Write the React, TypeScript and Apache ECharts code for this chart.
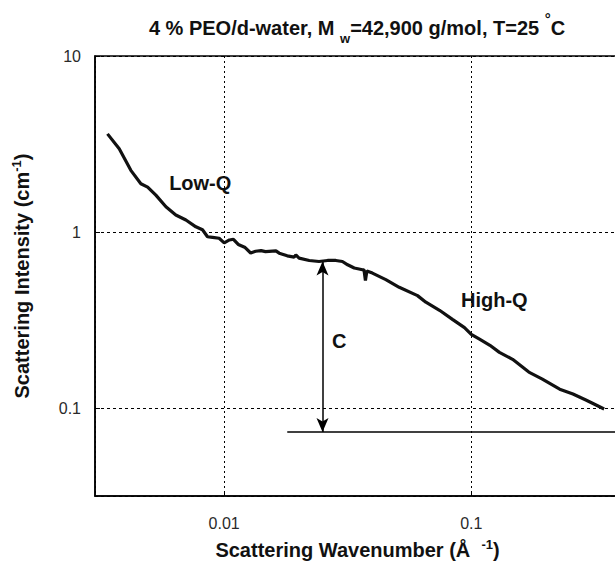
import React, { useEffect, useRef } from "react";
import * as echarts from "echarts";

// Scattering wavenumber Q (1/Å) and intensity I (1/cm)
const qValues = [
  0.00337, 0.00376, 0.00419, 0.0046, 0.0049, 0.00529, 0.00581, 0.00637, 0.007, 0.00768,
  0.00817, 0.00856, 0.00897, 0.00954, 0.01, 0.0105, 0.0109, 0.0114, 0.0121, 0.0128,
  0.0134, 0.0141, 0.0147, 0.0162, 0.0167, 0.018, 0.0192, 0.0195, 0.0201, 0.0221,
  0.0242, 0.0262, 0.0283, 0.0301, 0.0316, 0.0336, 0.0363, 0.0368, 0.0373, 0.0378,
  0.0398, 0.0451, 0.0511, 0.0606, 0.0655, 0.0744, 0.0842, 0.0939, 0.1, 0.108,
  0.119, 0.13, 0.147, 0.171, 0.194, 0.228, 0.258, 0.291, 0.32, 0.345,
];
const intensityValues = [
  3.61, 2.97, 2.24, 1.88, 1.8, 1.62, 1.39, 1.25, 1.17, 1.07,
  1.03, 0.94, 0.933, 0.921, 0.868, 0.901, 0.909, 0.85, 0.82, 0.76,
  0.777, 0.784, 0.774, 0.781, 0.758, 0.732, 0.72, 0.741, 0.71, 0.689,
  0.68, 0.689, 0.689, 0.68, 0.651, 0.624, 0.61, 0.61, 0.53, 0.6,
  0.584, 0.536, 0.485, 0.435, 0.399, 0.359, 0.318, 0.286, 0.262, 0.246,
  0.227, 0.207, 0.189, 0.16, 0.146, 0.128, 0.12, 0.111, 0.104, 0.0987,
];

// Constant background line and the "C" arrow
const baselineQ = [0.018, 0.4];
const baselineIntensity = [0.073, 0.073];
const arrowQ = 0.025;
const arrowIntensity = [0.073, 0.68];

// Annotations
const annotationTexts = ["Low-Q", "High-Q", "C"];
const annotationQ = [0.008, 0.124, 0.0292];
const annotationIntensity = [1.89, 0.413, 0.239];

// Axes
const xRange = [0.003, 0.4];
const yRange = [0.031623, 10];
const xTickLabels = ["0.01", "0.1"];
const yTickLabels = ["0.1", "1", "10"];

const FONT = "'Liberation Sans', Arial, Helvetica, sans-serif";

function pickLabel(labels: string[]) {
  return (v: number) => {
    for (const l of labels) {
      if (Math.abs(Math.log10(v) - Math.log10(Number(l))) < 1e-6) return l;
    }
    return "";
  };
}

export default function App() {
  const ref = useRef<HTMLDivElement>(null);

  useEffect(() => {
    if (!ref.current) return;
    const chart = echarts.init(ref.current, null, { renderer: "svg" });

    const curve = qValues.map((q, i) => [q, intensityValues[i]]);
    const baseline = baselineQ.map((q, i) => [q, baselineIntensity[i]]);
    const annotations = annotationTexts.map((t, i) => [annotationQ[i], annotationIntensity[i], t]);

    const option: any = {
      animation: false,
      textStyle: { fontFamily: FONT },
      grid: {
        left: 95,
        top: 56,
        width: 525,
        height: 443,
        show: true,
        borderColor: "#000",
        borderWidth: 1.5,
        backgroundColor: "transparent",
      },
      graphic: [
        {
          type: "text",
          x: 357,
          y: 28,
          style: {
            text: "4 % PEO/d-water, M {sub|w}=42,900 g/mol, T=25 {sup|°}C",
            fontFamily: FONT,
            fontSize: 20,
            fontWeight: "bold",
            lineHeight: 34,
            fill: "#111",
            textAlign: "center",
            textVerticalAlign: "middle",
            rich: {
              sub: { fontFamily: FONT, fontSize: 13, fontWeight: "bold", lineHeight: 7, verticalAlign: "bottom", fill: "#111" },
              sup: { fontFamily: FONT, fontSize: 15, fontWeight: "bold", lineHeight: 28, verticalAlign: "top", fill: "#111" },
            },
          },
        },
      ],
      xAxis: {
        type: "log",
        logBase: 10,
        min: xRange[0],
        max: xRange[1],
        name: "Scattering Wavenumber (Å  {sup|-1})",
        nameLocation: "middle",
        nameGap: 42,
        nameTextStyle: {
          fontFamily: FONT,
          fontSize: 20,
          fontWeight: "bold",
          color: "#111",
          lineHeight: 24,
          rich: {
            sup: { fontFamily: FONT, fontSize: 13, fontWeight: "bold", color: "#111", lineHeight: 10, verticalAlign: "top" },
          },
        },
        axisLine: { show: true, lineStyle: { color: "#000", width: 1.5 } },
        axisTick: { show: true, inside: true, length: 5, lineStyle: { color: "#000", width: 1 } },
        axisLabel: {
          show: true,
          margin: 19,
          fontFamily: FONT,
          fontSize: 16,
          color: "#2a2a2a",
          showMinLabel: false,
          showMaxLabel: false,
          formatter: pickLabel(xTickLabels),
        },
        splitLine: { show: true, lineStyle: { color: "#000", width: 1, type: [2, 3] } },
        minorTick: { show: false },
      },
      yAxis: {
        type: "log",
        logBase: 10,
        min: yRange[0],
        max: yRange[1],
        name: "Scattering Intensity (cm{sup|-1})",
        nameLocation: "middle",
        nameRotate: 90,
        nameGap: 61,
        nameTextStyle: {
          fontFamily: FONT,
          fontSize: 20,
          fontWeight: "bold",
          color: "#111",
          lineHeight: 24,
          rich: {
            sup: { fontFamily: FONT, fontSize: 13, fontWeight: "bold", color: "#111", lineHeight: 10, verticalAlign: "top" },
          },
        },
        axisLine: { show: true, lineStyle: { color: "#000", width: 1.5 } },
        axisTick: { show: true, inside: true, length: 5, lineStyle: { color: "#000", width: 1 } },
        axisLabel: {
          show: true,
          margin: 14,
          fontFamily: FONT,
          fontSize: 16,
          color: "#2a2a2a",
          showMinLabel: false,
          formatter: pickLabel(yTickLabels),
        },
        splitLine: { show: true, lineStyle: { color: "#000", width: 1, type: [3, 3] } },
      },
      series: [
        {
          name: "I(Q)",
          type: "line",
          data: curve,
          showSymbol: false,
          symbol: "none",
          lineStyle: { color: "#111", width: 3.2 },
          z: 5,
        },
        {
          name: "baseline",
          type: "line",
          data: baseline,
          showSymbol: false,
          symbol: "none",
          lineStyle: { color: "#000", width: 1.5 },
          markLine: {
            silent: true,
            symbol: ["arrow", "arrow"],
            symbolSize: [9, 14],
            label: { show: false },
            lineStyle: { color: "#000", width: 1.5, type: "solid" },
            data: [[{ coord: [arrowQ, arrowIntensity[0]] }, { coord: [arrowQ, arrowIntensity[1]] }]],
          },
        },
        {
          name: "annotations",
          type: "scatter",
          data: annotations,
          symbolSize: 1,
          itemStyle: { color: "transparent", opacity: 1 },
          label: {
            show: true,
            position: "inside",
            formatter: (p: any) => p.data[2],
            fontFamily: FONT,
            fontSize: 20,
            fontWeight: "bold",
            color: "#111",
            opacity: 1,
          },
          z: 6,
        },
      ],
    };

    chart.setOption(option);
    return () => chart.dispose();
  }, []);

  return (
    <div
      ref={ref}
      style={{ position: "fixed", left: 0, top: 0, width: 640, height: 567, background: "#fff" }}
    />
  );
}
